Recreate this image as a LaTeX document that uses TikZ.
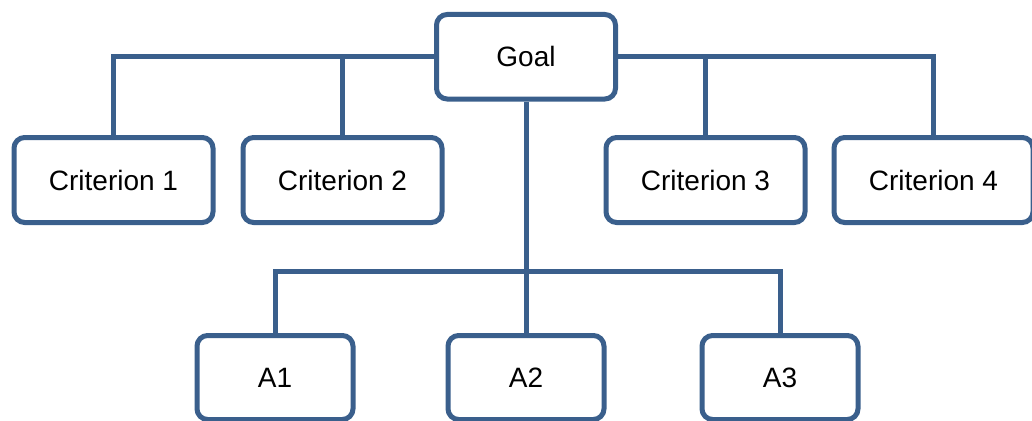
\documentclass[tikz,border=0pt]{standalone}
\usepackage{fontspec}
\setmainfont{Liberation Sans}
\definecolor{boxblue}{RGB}{58,95,140}
\begin{document}
\begin{tikzpicture}[x=0.75pt,y=-0.75pt,
  box/.style={draw=boxblue,line width=3.75pt,rounded corners=8pt,fill=white,
    inner sep=0pt,font=\fontsize{21}{25}\selectfont},
  crit/.style={box,minimum width=149.25pt,minimum height=63.75pt},
  alt/.style={box,minimum width=117pt,minimum height=63pt},
  link/.style={draw=boxblue,line width=3.75pt}]
\useasboundingbox (0,0) rectangle (1032,421);
\node [box,minimum width=134.25pt,minimum height=63.4pt] (goal) at (526,56.75) {Goal};
\node [crit] (c1) at (113.5,180) {Criterion 1};
\node [crit] (c2) at (342.5,180) {Criterion 2};
\node [crit] (c3) at (705.5,180) {Criterion 3};
\node [crit] (c4) at (933.5,180) {Criterion 4};
\node [alt] (a1) at (275,377.5) {A1};
\node [alt] (a2) at (526,377.5) {A2};
\node [alt] (a3) at (780,377.5) {A3};
\coordinate (bar) at (526,271.5);
\draw [link] (goal.west) -| (c1.north);
\draw [link] (goal.west) -| (c2.north);
\draw [link] (goal.east) -| (c3.north);
\draw [link] (goal.east) -| (c4.north);
\draw [link] (goal.south) -- (a2.north);
\draw [link] (a1.north) |- (bar) -| (a3.north);
\end{tikzpicture}
\end{document}
